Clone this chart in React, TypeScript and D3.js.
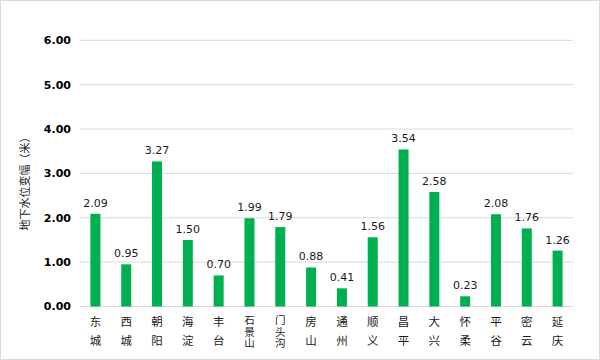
import React from "react";
import * as d3 from "d3";

const categories: string[] = ["东城", "西城", "朝阳", "海淀", "丰台", "石景山", "门头沟", "房山", "通州", "顺义", "昌平", "大兴", "怀柔", "平谷", "密云", "延庆"];
const values: number[] = [2.09, 0.95, 3.27, 1.5, 0.7, 1.99, 1.79, 0.88, 0.41, 1.56, 3.54, 2.58, 0.23, 2.08, 1.76, 1.26];
const yTicks: number[] = [0, 1, 2, 3, 4, 5, 6];
const yTitle = "地下水位变幅（米）";

export default function App() {
  const W = 600, H = 360;
  const left = 80, right = 573, top = 40.3, bottom = 306.5;
  const x = d3.scaleBand<string>().domain(categories).range([left, right]).padding(0);
  const y = d3.scaleLinear().domain([0, 6]).range([bottom, top]);
  const barW = 10;
  const font = "'DejaVu Sans', sans-serif";
  const cjk = "'Noto Sans CJK SC', 'DejaVu Sans', sans-serif";

  return (
    <svg width={W} height={H} style={{ position: "absolute", left: 0, top: 0, background: "#fff" }}>
      <rect x={0.5} y={0.5} width={W - 1} height={H - 1} fill="#fff" stroke="#d9d9d9" />
      {yTicks.map((t) => (
        <g key={t}>
          <line x1={left} x2={right} y1={y(t)} y2={y(t)} stroke="#d9d9d9" strokeWidth={1} />
          <text x={71} y={y(t)} dy="0.36em" textAnchor="end" fontFamily={font} fontWeight="bold" fontSize={11} fill="#000">
            {d3.format(".2f")(t)}
          </text>
        </g>
      ))}
      {categories.map((c, i) => {
        const cx = (x(c) as number) + x.bandwidth() / 2;
        const v = values[i];
        const three = Array.from(c).length === 3;
        const fs = three ? 10.5 : 11.5;
        const ls = three ? 1 : 7;
        const firstCenter = three ? 320.5 : 322;
        return (
          <g key={c}>
            <rect x={cx - barW / 2} y={y(v)} width={barW} height={y(0) - y(v)} fill="#00B050" />
            <text x={cx} y={y(v) - 7} textAnchor="middle" fontFamily={font} fontSize={11} fill="#1a1a1a">
              {d3.format(".2f")(v)}
            </text>
            <text
              x={cx}
              y={firstCenter - fs / 2}
              textAnchor="start"
              fontFamily={cjk}
              fontSize={fs}
              fill="#1a1a1a"
              style={{ writingMode: "vertical-rl", textOrientation: "upright", letterSpacing: `${ls}px` } as any}
            >
              {c}
            </text>
          </g>
        );
      })}
      <text
        transform={`translate(25,181) rotate(-90)`}
        textAnchor="middle"
        dy="0.36em"
        fontFamily={cjk}
        fontSize={11}
        fill="#1a1a1a"
      >
        {yTitle}
      </text>
    </svg>
  );
}
